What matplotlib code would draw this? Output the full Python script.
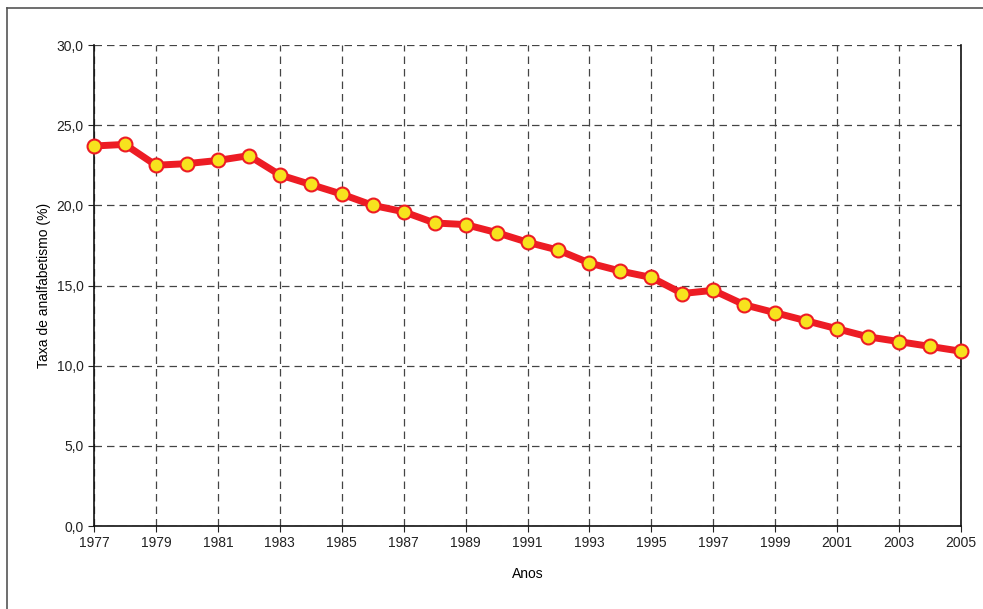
import numpy as np
import matplotlib.pyplot as plt
from matplotlib.lines import Line2D

plt.rcParams['font.family'] = ['Liberation Sans', 'DejaVu Sans']

# Dados
anos = list(range(1977, 2006))
taxa = [23.7, 23.8, 22.5, 22.6, 22.8, 23.1, 21.9, 21.3, 20.7, 20.0,
        19.6, 18.9, 18.8, 18.3, 17.7, 17.2, 16.4, 15.9, 15.5, 14.5,
        14.7, 13.8, 13.3, 12.8, 12.3, 11.8, 11.5, 11.2, 10.9]
y_ticks = [0, 5, 10, 15, 20, 25, 30]
x_ticks = list(range(1977, 2006, 2))

fig = plt.figure(figsize=(9.83, 6.09), dpi=100)
ax = fig.add_axes([94 / 983, 1 - 526 / 609, (961 - 94) / 983, (526 - 45) / 609])

ax.plot(anos, taxa, color='#ed1c24', lw=5, marker='o', ms=10,
        mfc='#f7e31e', mec='#ed1c24', mew=1.5, zorder=3, clip_on=False)

ax.set_xlim(1977, 2005)
ax.set_ylim(0, 30)
ax.set_xticks(x_ticks)
ax.set_yticks(y_ticks)
ax.set_yticklabels([f'{v:.1f}'.replace('.', ',') for v in y_ticks])
ax.tick_params(labelsize=10, length=4, width=0.8, colors='#222222')

# Grade tracejada
ax.grid(True, ls=(0, (6, 4)), color='#444444', lw=0.9)
ax.spines['top'].set_visible(False)
for s in ['left', 'bottom', 'right']:
    ax.spines[s].set_linewidth(1.2)
    ax.spines[s].set_color('#111111')

ax.set_xlabel('Anos', fontsize=10, labelpad=12)
ax.set_ylabel('Taxa de analfabetismo (%)', fontsize=10, labelpad=4)

# Moldura externa
fig.add_artist(Line2D([7 / 983, 1], [1 - 8 / 609, 1 - 8 / 609], color='#555555', lw=1.2))
fig.add_artist(Line2D([7 / 983, 7 / 983], [0, 1 - 8 / 609], color='#555555', lw=1.2))

fig.savefig('out.png', dpi=100)
